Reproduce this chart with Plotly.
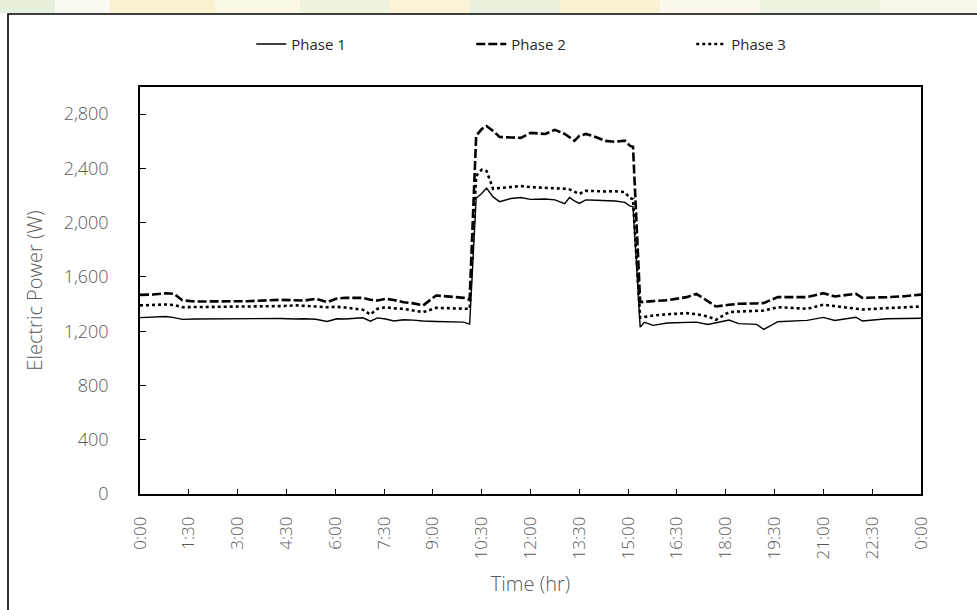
import plotly.graph_objects as go

# Sample times in decimal hours over one day
time_h = [0, 0.4, 0.8, 1.05, 1.3, 1.7, 2.5, 3.3, 4.3, 4.8,
          5.05, 5.4, 5.75, 6.05, 6.3, 6.85, 7.08, 7.3, 7.55, 7.8,
          8.1, 8.4, 8.7, 9.1, 9.5, 9.95, 10.13, 10.33, 10.5, 10.65,
          10.85, 11.05, 11.4, 11.7, 12.0, 12.45, 12.75, 13.05, 13.2, 13.35,
          13.5, 13.7, 14.0, 14.3, 14.6, 14.9, 15.06, 15.15, 15.37, 15.5,
          15.77, 16.2, 16.8, 17.1, 17.45, 17.7, 18.1, 18.4, 18.95, 19.17,
          19.6, 20.3, 20.5, 21.0, 21.35, 22.0, 22.2, 22.95, 23.5, 24.0]

phase1 = [1300, 1302, 1308, 1300, 1287, 1290, 1292, 1292, 1294, 1290,
          1292, 1288, 1272, 1292, 1290, 1299, 1274, 1298, 1290, 1275,
          1284, 1282, 1275, 1272, 1270, 1267, 1252, 2180, 2215, 2255,
          2190, 2155, 2178, 2185, 2172, 2175, 2168, 2140, 2185, 2160,
          2142, 2168, 2165, 2162, 2160, 2150, 2122, 2118, 1230, 1265,
          1243, 1260, 1262, 1267, 1250, 1262, 1282, 1256, 1250, 1213,
          1270, 1278, 1280, 1302, 1279, 1303, 1275, 1292, 1295, 1296]

phase2 = [1468, 1470, 1480, 1475, 1428, 1419, 1420, 1421, 1431, 1425,
          1426, 1439, 1414, 1440, 1446, 1446, 1432, 1426, 1439, 1430,
          1414, 1405, 1390, 1463, 1455, 1446, 1432, 2640, 2690, 2712,
          2676, 2632, 2628, 2625, 2662, 2654, 2684, 2654, 2630, 2603,
          2640, 2654, 2632, 2603, 2596, 2605, 2566, 2560, 1414, 1418,
          1422, 1428, 1451, 1475, 1420, 1382, 1395, 1402, 1405, 1408,
          1451, 1448, 1451, 1480, 1456, 1475, 1446, 1451, 1458, 1470]

phase3 = [1390, 1392, 1397, 1392, 1377, 1378, 1380, 1380, 1385, 1390,
          1385, 1382, 1377, 1380, 1375, 1358, 1323, 1365, 1377, 1368,
          1365, 1355, 1340, 1372, 1370, 1365, 1365, 2345, 2390, 2380,
          2250, 2255, 2262, 2270, 2262, 2258, 2255, 2250, 2245, 2230,
          2212, 2235, 2232, 2230, 2232, 2225, 2180, 2175, 1300, 1305,
          1316, 1325, 1333, 1325, 1309, 1284, 1340, 1345, 1350, 1352,
          1377, 1368, 1365, 1395, 1385, 1362, 1360, 1370, 1375, 1382]

tick_hours = [0, 1.5, 3, 4.5, 6, 7.5, 9, 10.5, 12, 13.5, 15, 16.5, 18, 19.5, 21, 22.5, 24]
tick_text = ["0:00", "1:30", "3:00", "4:30", "6:00", "7:30", "9:00", "10:30", "12:00",
             "13:30", "15:00", "16:30", "18:00", "19:30", "21:00", "22:30", "0:00"]
y_ticks = [0, 400, 800, 1200, 1600, 2000, 2400, 2800]

FONT = "'Open Sans', 'Noto Sans', sans-serif"
GREY = "#595959"

fig = go.Figure()
fig.add_trace(go.Scatter(x=time_h, y=phase1, mode="lines", name="Phase 1",
                         line=dict(color="black", width=1.4)))
fig.add_trace(go.Scatter(x=time_h, y=phase2, mode="lines", name="Phase 2",
                         line=dict(color="black", width=2.6, dash="9px,3px")))
fig.add_trace(go.Scatter(x=time_h, y=phase3, mode="lines", name="Phase 3",
                         line=dict(color="black", width=2.6, dash="3px,3px")))

# faint logo strip above the framed chart
strip = [(0, 55, "#e6f0dc"), (55, 110, "#fbfaf2"), (110, 215, "#f9f1d0"),
         (215, 300, "#fbf7e6"), (300, 390, "#eff2dc"), (390, 470, "#faf3d8"),
         (470, 560, "#eaf1de"), (560, 660, "#f8f1d2"), (660, 760, "#fcf9ec"),
         (760, 880, "#ebf2e0"), (880, 977, "#f6f5e8")]
shapes = []
for x0, x1, c in strip:
    shapes.append(dict(type="rect", xref="paper", yref="paper",
                       x0=(x0 - 140) / 781, x1=(x1 - 140) / 781,
                       y0=(494 - 13) / 407, y1=(494 + 2) / 407 + 0.2,
                       fillcolor=c, line=dict(width=0), layer="below"))
# outer chart frame (extends past the right and bottom edges)
shapes.append(dict(type="rect", xref="paper", yref="paper",
                   x0=(8 - 140) / 781, x1=(1000 - 140) / 781,
                   y0=(494 - 640) / 407, y1=(494 - 14) / 407,
                   fillcolor="white", line=dict(color="black", width=1.6), layer="below"))

fig.update_layout(
    width=977, height=610,
    margin=dict(l=140, r=56, t=87, b=116),
    paper_bgcolor="white", plot_bgcolor="white",
    font=dict(family=FONT, color=GREY, size=16),
    shapes=shapes,
    showlegend=True,
    legend=dict(orientation="h", x=0.565, xanchor="center", y=1.105, yanchor="middle",
                font=dict(family=FONT, size=15, color="#262626"),
                entrywidth=175, bgcolor="rgba(0,0,0,0)"),
    xaxis=dict(range=[0, 24], tickmode="array", tickvals=tick_hours, ticktext=tick_text,
               tickangle=-90, ticks="inside", ticklen=5, tickcolor="black", tickwidth=1.4,
               showline=True, linecolor="black", linewidth=1.6, mirror=True,
               showgrid=False, zeroline=False, ticklabelstandoff=14,
               tickfont=dict(size=17, color=GREY, weight=300),
               title=dict(text="Time (hr)", font=dict(size=20, color=GREY, weight=300), standoff=19)),
    yaxis=dict(range=[0, 3000], tickmode="array", tickvals=y_ticks, tickformat=",d",
               ticks="inside", ticklen=6, tickcolor="black", tickwidth=1.4,
               showline=True, linecolor="black", linewidth=1.6, mirror=True,
               showgrid=False, zeroline=False, ticklabelstandoff=26,
               tickfont=dict(size=18, color=GREY, weight=300),
               title=dict(text="Electric Power (W)", font=dict(size=20, color=GREY, weight=300), standoff=16)),
)

fig.write_html("out.html")
